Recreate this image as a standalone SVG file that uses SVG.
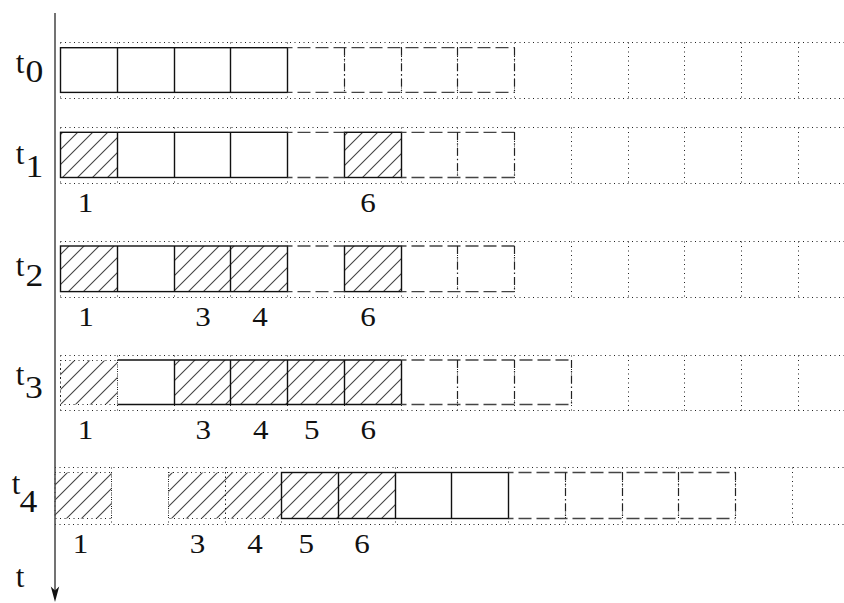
<svg xmlns="http://www.w3.org/2000/svg" width="844" height="603" viewBox="0 0 844 603">
<defs>
<pattern id="hatch" patternUnits="userSpaceOnUse" width="15" height="15">
<path d="M-2,2 L2,-2 M0,15 L15,0 M13,17 L17,13" stroke="#444" stroke-width="1.1"/>
</pattern>
<style>
.dot{stroke:#222;stroke-width:1;stroke-dasharray:1 3.5;fill:none}
.sol{stroke:#111;stroke-width:1.4;fill:none}
.dash{stroke:#444;stroke-width:1.3;stroke-dasharray:13 5;stroke-dashoffset:-10;fill:none}
.dd{stroke:#222;stroke-width:1.2;stroke-dasharray:8 3 1.5 3;fill:none}
.h{fill:url(#hatch);stroke:none}
.lbl{font-family:"Liberation Serif","Times New Roman",serif;font-size:27px;fill:#111;text-anchor:middle}
.tl{font-family:"Liberation Serif","Times New Roman",serif;font-size:31px;fill:#111;text-anchor:middle}
</style>
</defs>
<rect width="844" height="603" fill="#fff"/>

<g id="row-t0">
<path class="dot" d="M60.5,42.5H844M60.5,98.5H844M60.5,42.5V98.5M117.5,42.5V98.5M174.5,42.5V98.5M230.5,42.5V98.5M287.5,42.5V98.5M344.5,42.5V98.5M401.5,42.5V98.5M457.5,42.5V98.5M514.5,42.5V98.5M571.5,42.5V98.5M628.5,42.5V98.5M684.5,42.5V98.5M741.5,42.5V98.5M798.5,42.5V98.5"/>
<rect class="sol" x="60.5" y="47.7" width="227" height="44.7"/>
<path class="sol" d="M117.5,47.7V92.4M174.5,47.7V92.4M230.5,47.7V92.4"/>
<path class="dash" d="M287.5,47.7H514.5M287.5,92.4H514.5"/>
<path class="dd" d="M344.5,47.7V92.4M401.5,47.7V92.4M457.5,47.7V92.4M514.5,47.7V92.4"/>
<text class="tl" x="20" y="72.5">t</text>
<text class="tl" transform="translate(34.5,81.7) scale(1.15,1)">0</text>
</g>

<g id="row-t1">
<path class="dot" d="M60.5,127.5H844M60.5,183.5H844M60.5,127.5V183.5M117.5,127.5V183.5M174.5,127.5V183.5M230.5,127.5V183.5M287.5,127.5V183.5M344.5,127.5V183.5M401.5,127.5V183.5M457.5,127.5V183.5M514.5,127.5V183.5M571.5,127.5V183.5M628.5,127.5V183.5M684.5,127.5V183.5M741.5,127.5V183.5M798.5,127.5V183.5"/>
<rect class="h" x="60.5" y="132.3" width="57" height="45.2"/>
<rect class="h" x="344.5" y="132.3" width="57" height="45.2"/>
<rect class="sol" x="60.5" y="132.3" width="227" height="45.2"/>
<path class="sol" d="M117.5,132.3V177.5M174.5,132.3V177.5M230.5,132.3V177.5"/>
<rect class="sol" x="344.5" y="132.3" width="57" height="45.2"/>
<path class="dash" d="M287.5,132.3H344.5M287.5,177.5H344.5M401.5,132.3H514.5M401.5,177.5H514.5"/>
<path class="dd" d="M457.5,132.3V177.5M514.5,132.3V177.5"/>
<text class="tl" x="20" y="164">t</text>
<text class="tl" transform="translate(34.5,177.3) scale(1.15,1)">1</text>
<text class="lbl" transform="translate(85.5,212) scale(1.15,1)">1</text>
<text class="lbl" transform="translate(368,212) scale(1.15,1)">6</text>
</g>

<g id="row-t2">
<path class="dot" d="M60.5,241.5H844M60.5,297.5H844M60.5,241.5V297.5M117.5,241.5V297.5M174.5,241.5V297.5M230.5,241.5V297.5M287.5,241.5V297.5M344.5,241.5V297.5M401.5,241.5V297.5M457.5,241.5V297.5M514.5,241.5V297.5M571.5,241.5V297.5M628.5,241.5V297.5M684.5,241.5V297.5M741.5,241.5V297.5M798.5,241.5V297.5"/>
<rect class="h" x="60.5" y="246" width="57" height="45.6"/>
<rect class="h" x="174.5" y="246" width="113" height="45.6"/>
<rect class="h" x="344.5" y="246" width="57" height="45.6"/>
<rect class="sol" x="60.5" y="246" width="227" height="45.6"/>
<path class="sol" d="M117.5,246V291.6M174.5,246V291.6M230.5,246V291.6"/>
<rect class="sol" x="344.5" y="246" width="57" height="45.6"/>
<path class="dash" d="M287.5,246H344.5M287.5,291.6H344.5M401.5,246H514.5M401.5,291.6H514.5"/>
<path class="dd" d="M457.5,246V291.6M514.5,246V291.6"/>
<text class="tl" x="20" y="276">t</text>
<text class="tl" transform="translate(34.5,286) scale(1.15,1)">2</text>
<text class="lbl" transform="translate(86,326) scale(1.15,1)">1</text>
<text class="lbl" transform="translate(203,326) scale(1.15,1)">3</text>
<text class="lbl" transform="translate(260,326) scale(1.15,1)">4</text>
<text class="lbl" transform="translate(368,326) scale(1.15,1)">6</text>
</g>

<g id="row-t3">
<path class="dot" d="M60.5,355.5H844M60.5,410.5H844M60.5,355.5V410.5M117.5,355.5V410.5M174.5,355.5V410.5M230.5,355.5V410.5M287.5,355.5V410.5M344.5,355.5V410.5M401.5,355.5V410.5M457.5,355.5V410.5M514.5,355.5V410.5M571.5,355.5V410.5M628.5,355.5V410.5M684.5,355.5V410.5M741.5,355.5V410.5M798.5,355.5V410.5"/>
<rect class="h" x="60.5" y="360.5" width="57" height="44"/>
<rect class="dot" x="60.5" y="360.5" width="57" height="44"/>
<rect class="h" x="174.5" y="360" width="227" height="44.5"/>
<path class="sol" d="M117.5,360H401.5M117.5,404.5H401.5M174.5,360V404.5M230.5,360V404.5M287.5,360V404.5M344.5,360V404.5M401.5,360V404.5"/>
<path class="dash" d="M401.5,360H571.5M401.5,404.5H571.5"/>
<path class="dd" d="M457.5,360V404.5M514.5,360V404.5M571.5,360V404.5"/>
<text class="tl" x="20" y="385">t</text>
<text class="tl" transform="translate(34,398.3) scale(1.15,1)">3</text>
<text class="lbl" transform="translate(85.5,439) scale(1.15,1)">1</text>
<text class="lbl" transform="translate(203.3,439) scale(1.15,1)">3</text>
<text class="lbl" transform="translate(260.8,439) scale(1.15,1)">4</text>
<text class="lbl" transform="translate(311.7,439) scale(1.15,1)">5</text>
<text class="lbl" transform="translate(368.3,439) scale(1.15,1)">6</text>
</g>

<g id="row-t4">
<path class="dot" d="M55,467.5H844M55,524.5H844M111.5,467.5V524.5M168.5,467.5V524.5M225.5,467.5V524.5M281.5,467.5V524.5M338.5,467.5V524.5M395.5,467.5V524.5M451.5,467.5V524.5M508.5,467.5V524.5M565.5,467.5V524.5M622.5,467.5V524.5M678.5,467.5V524.5M735.5,467.5V524.5M792.5,467.5V524.5"/>
<rect class="h" x="55" y="472.5" width="56.5" height="46"/>
<rect class="dot" x="55" y="472.5" width="56.5" height="46"/>
<rect class="h" x="168.5" y="472.5" width="113" height="46"/>
<rect class="dot" x="168.5" y="472.5" width="113" height="46"/>
<path class="dot" d="M225.5,472.5V518.5"/>
<rect class="h" x="281.5" y="472.5" width="114" height="46"/>
<rect class="sol" x="281.5" y="472.5" width="227" height="46"/>
<path class="sol" d="M338.5,472.5V518.5M395.5,472.5V518.5M451.5,472.5V518.5"/>
<path class="dash" d="M508.5,472.5H735.5M508.5,518.5H735.5"/>
<path class="dd" d="M565.5,472.5V518.5M622.5,472.5V518.5M678.5,472.5V518.5M735.5,472.5V518.5"/>
<text class="tl" x="16" y="494">t</text>
<text class="tl" transform="translate(28.5,511.7) scale(1.15,1)">4</text>
<text class="lbl" transform="translate(80.5,553) scale(1.15,1)">1</text>
<text class="lbl" transform="translate(197.5,553) scale(1.15,1)">3</text>
<text class="lbl" transform="translate(255,553) scale(1.15,1)">4</text>
<text class="lbl" transform="translate(306.3,553) scale(1.15,1)">5</text>
<text class="lbl" transform="translate(362,553) scale(1.15,1)">6</text>
</g>

<g id="connectors">
<g id="axis">
<path d="M55,13V591" stroke="#444" stroke-width="1.5" fill="none"/>
<polygon points="55,602 50.8,586.5 55,590.5 59.2,586.5" fill="#111"/>
<text class="tl" x="20" y="586.7">t</text>
</g>
</g>
</svg>
